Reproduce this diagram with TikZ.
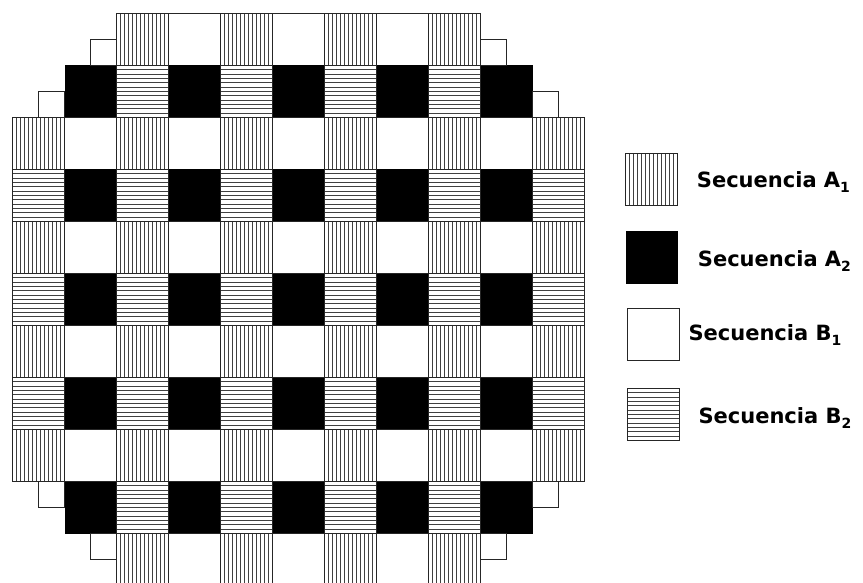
\documentclass[tikz,border=0pt]{standalone}
\usepackage{fontspec}
\setmainfont{DejaVu Sans}
\newcommand\CellW{52}
\newcommand\drawV[2]{\foreach \k in {1,...,12}{\draw[hatch] ({#1+\k*4},{#2}) -- ++(0,\CellW);}\draw[edge] (#1,#2) rectangle ++(\CellW,\CellW);}
\newcommand\drawH[2]{\foreach \k in {1,...,11}{\draw[hatch] ({#1},{#2+\k*\CellW/12}) -- ++(\CellW,0);}\draw[edge] (#1,#2) rectangle ++(\CellW,\CellW);}
\newcommand\drawB[2]{\fill[black] (#1,#2) rectangle ++(\CellW,\CellW);}
\newcommand\drawW[2]{\draw[edge] (#1,#2) rectangle ++(\CellW,\CellW);}
\newcommand\legsub[1]{\raisebox{-5pt}{\fontsize{14}{14}\selectfont #1}}
\begin{document}
\begin{tikzpicture}[x=1pt,y=-1pt,
  edge/.style={draw=black!85, line width=1.2pt},
  hatch/.style={draw=black!75, line width=1.25pt},
  legtext/.style={anchor=base west, inner sep=0pt, font=\bfseries\fontsize{21}{21}\selectfont}]
\useasboundingbox (0,0) rectangle (863,583);
\clip (0,0) rectangle (863,583);
\foreach \r/\a/\b in {0/2/8,1/1/9,2/0/10,3/0/10,4/0/10,5/0/10,6/0/10,7/0/10,8/0/10,9/1/9,10/2/8}{
  \foreach \c in {\a,...,\b}{
    \pgfmathsetmacro\px{12.5+\c*\CellW}
    \pgfmathsetmacro\py{13.5+\r*\CellW}
    \pgfmathtruncatemacro\pr{mod(\r,2)}
    \pgfmathtruncatemacro\pc{mod(\c,2)}
    \ifnum\pr=0 \ifnum\pc=0 \drawV{\px}{\py}\else\drawW{\px}{\py}\fi
    \else \ifnum\pc=0 \drawH{\px}{\py}\else\drawB{\px}{\py}\fi\fi
  }
}
\foreach \sx/\sy in {1.5/0.5, 9/0.5, 0.5/1.5, 10/1.5, 0.5/9, 10/9, 1.5/10, 9/10}{
  \draw[edge] ({12.5+\sx*\CellW},{13.5+\sy*\CellW}) rectangle ++({\CellW/2},{\CellW/2});
}
% legend
\drawV{625.5}{153.5}
\drawB{625.5}{231.5}
\drawW{627.5}{308.5}
\drawH{627.5}{388.5}
\node[legtext] (la1) at (696.7,187.3) {Secuencia A\legsub{1}};
\node[legtext] (la2) at (697.7,266.7) {Secuencia A\legsub{2}};
\node[legtext] (lb1) at (688.3,340) {Secuencia B\legsub{1}};
\node[legtext] (lb2) at (698.3,423.3) {Secuencia B\legsub{2}};
\end{tikzpicture}
\end{document}
